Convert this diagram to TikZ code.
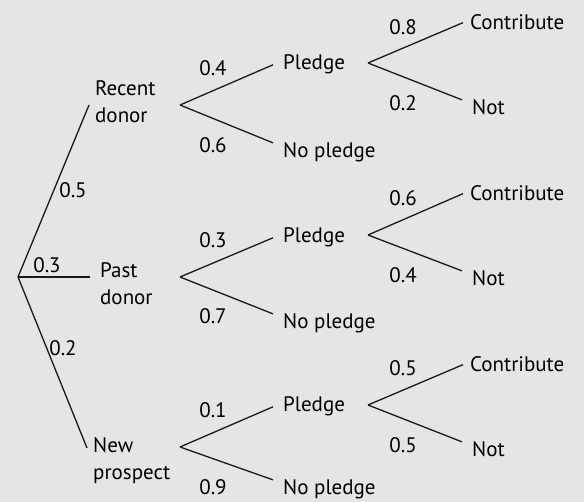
\documentclass[tikz,border=0pt]{standalone}
\usepackage{fontspec}
\setmainfont{PT Sans}
\usepackage{tikz}
\usetikzlibrary{positioning,calc}

\tikzset{
    branch/.style={line width=1.3pt, draw=black!90},
    lbl/.style={inner sep=0pt, text=black, anchor=base west},
    donor/.style={inner sep=0pt, text=black, anchor=north west, align=left},
    prob/.style={inner sep=0pt, text=black}
}

\begin{document}
\begin{tikzpicture}[x=1pt,y=-1pt,font=\fontsize{21}{27}\selectfont]
    \fill[black!10] (0,0) rectangle (584,502);
    \useasboundingbox (0,0) rectangle (584,502);

    \coordinate (root) at (18,277);
    \coordinate (recentEnd) at (89,105);
    \coordinate (pastEnd) at (90,277);
    \coordinate (newEnd) at (87,448);
    \draw[branch] (root) -- (recentEnd);
    \draw[branch] (root) -- (pastEnd);
    \draw[branch] (root) -- (newEnd);

    \node[prob] (pRecent) at (73,190) {0.5};
    \node[prob] (pPast) at (47,265) {0.3};
    \node[prob] (pNew) at (63,348) {0.2};

    \node[donor] (recent) at (95,80) {Recent\\donor};
    \node[donor] (past) at (100,262) {Past\\donor};
    \node[donor] (new) at (93,437) {New\\prospect};

    \coordinate (recentFork) at (180,105);
    \node[lbl] (recentPledge) at (283,70) {Pledge};
    \node[lbl] (recentNoPledge) at (283,158) {No pledge};
    \draw[branch] (recentFork) -- ([xshift=-10pt]recentPledge.west);
    \draw[branch] (recentFork) -- ([xshift=-10pt]recentNoPledge.north west);
    \node[prob] (pRecentPledge) at (213,68) {0.4};
    \node[prob] (pRecentNoPledge) at (213,145) {0.6};

    \coordinate (recentPledgeFork) at (368,63);
    \node[lbl] (recentContribute) at (470,30) {Contribute};
    \node[lbl] (recentNot) at (472,115) {Not};
    \draw[branch] (recentPledgeFork) -- ([xshift=-7pt]recentContribute.west);
    \draw[branch] (recentPledgeFork) -- ([xshift=-10pt]recentNot.north west);
    \node[prob] (pRecentContribute) at (403,27) {0.8};
    \node[prob] (pRecentNot) at (403,103) {0.2};

    \coordinate (pastFork) at (180,277);
    \node[lbl] (pastPledge) at (283,243) {Pledge};
    \node[lbl] (pastNoPledge) at (283,329) {No pledge};
    \draw[branch] (pastFork) -- ([xshift=-10pt]pastPledge.west);
    \draw[branch] (pastFork) -- ([xshift=-10pt]pastNoPledge.north west);
    \node[prob] (pPastPledge) at (213,240) {0.3};
    \node[prob] (pPastNoPledge) at (213,316) {0.7};

    \coordinate (pastPledgeFork) at (368,235);
    \node[lbl] (pastContribute) at (470,201) {Contribute};
    \node[lbl] (pastNot) at (472,286) {Not};
    \draw[branch] (pastPledgeFork) -- ([xshift=-7pt]pastContribute.west);
    \draw[branch] (pastPledgeFork) -- ([xshift=-10pt]pastNot.north west);
    \node[prob] (pPastContribute) at (403,198) {0.6};
    \node[prob] (pPastNot) at (403,275) {0.4};

    \coordinate (newFork) at (180,447);
    \node[lbl] (newPledge) at (283,412) {Pledge};
    \node[lbl] (newNoPledge) at (283,495) {No pledge};
    \draw[branch] (newFork) -- ([xshift=-10pt]newNoPledge.north west);
    \draw[branch] (newFork) -- ([xshift=-10pt]newPledge.west);
    \node[prob] (pNewPledge) at (213,410) {0.1};
    \node[prob] (pNewNoPledge) at (213,487) {0.9};

    \coordinate (newPledgeFork) at (368,405);
    \node[lbl] (newContribute) at (470,372) {Contribute};
    \node[lbl] (newNot) at (472,457) {Not};
    \draw[branch] (newPledgeFork) -- ([xshift=-7pt]newContribute.west);
    \draw[branch] (newPledgeFork) -- ([xshift=-10pt]newNot.north west);
    \node[prob] (pNewContribute) at (403,368) {0.5};
    \node[prob] (pNewNot) at (403,445) {0.5};
\end{tikzpicture}
\end{document}
